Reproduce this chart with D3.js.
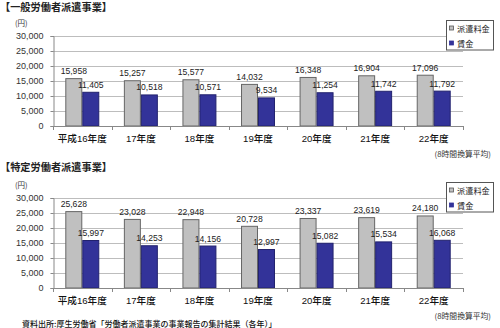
<!DOCTYPE html>
<html><head><meta charset="utf-8">
<script src="https://cdn.jsdelivr.net/npm/d3@7"></script>
<style>
html,body{margin:0;padding:0;background:#fff;}
svg{display:block;font-family:"Liberation Sans","Noto Sans CJK JP",sans-serif;}
</style></head><body>
<script>
const categories = ["平成16年度","17年度","18年度","19年度","20年度","21年度","22年度"];
const seriesNames = ["派遣料金","賃金"];
const generalFee  = [15958,15257,15577,14032,16348,16904,17096];
const generalWage = [11405,10518,10571,9534,11254,11742,11792];
const specificFee  = [25628,23028,22948,20728,23337,23619,24180];
const specificWage = [15997,14253,14156,12997,15082,15534,16068];
const yTicks = [0,5000,10000,15000,20000,25000,30000];
const titles = ["【一般労働者派遣事業】","【特定労働者派遣事業】"];
const unitLabel = "(円)";
const noteLabel = "(8時間換算平均)";
const sourceText = "資料出所:厚生労働省「労働者派遣事業の事業報告の集計結果（各年）」";

const colors = {"派遣料金":"#c0c0c0","賃金":"#333399"};
const strokes = {"派遣料金":"#666666","賃金":"#22226e"};

const svg = d3.select("body").append("svg").attr("width",500).attr("height",328);
const fmt = d3.format(",");

function drawChart(offY, titleY, title, fee, wage){
  const g = svg.append("g").attr("transform",`translate(0,${offY})`);
  const left=53, right=463, top=36, bottom=126;
  const x0 = d3.scaleBand().domain(categories).range([left,right]).paddingInner(0.42).paddingOuter(0.21);
  const x1 = d3.scaleBand().domain(seriesNames).range([0,x0.bandwidth()]);
  const y = d3.scaleLinear().domain([0,30000]).range([bottom,top]);

  g.append("text").attr("x",0).attr("y",titleY).attr("font-size",10.2).attr("font-weight","bold")
    .attr("font-family","Noto Sans CJK JP").attr("fill","#222").text(title);
  g.append("text").attr("x",15).attr("y",25.5).attr("font-size",7.5).attr("fill","#333")
    .attr("font-family","Noto Sans CJK JP").text(unitLabel);

  // gridlines
  g.append("g").selectAll("line").data(yTicks.filter(d=>d>0)).join("line")
    .attr("x1",left).attr("x2",right).attr("y1",d=>y(d)+0.5).attr("y2",d=>y(d)+0.5)
    .attr("stroke","#bdbdbd").attr("stroke-width",1);

  // y axis
  const ya = g.append("g").attr("transform",`translate(${left+0.5},0)`)
    .call(d3.axisLeft(y).tickValues(yTicks).tickSize(3).tickFormat(fmt));
  ya.select(".domain").attr("stroke","#888");
  ya.selectAll(".tick line").attr("stroke","#888");
  ya.selectAll(".tick text").attr("font-size",9).attr("fill","#333")
    .attr("font-family","Liberation Sans").attr("dx",-4);

  // bars
  const data = categories.map((c,i)=>({c, vals:[{s:"派遣料金",v:fee[i]},{s:"賃金",v:wage[i]}]}));
  const grp = g.append("g").selectAll("g").data(data).join("g")
    .attr("transform",d=>`translate(${x0(d.c)},0)`);
  grp.selectAll("rect").data(d=>d.vals).join("rect")
    .attr("x",d=>x1(d.s)+0.5).attr("width",x1.bandwidth()-1)
    .attr("y",d=>y(d.v)+0.5).attr("height",d=>y(0)-y(d.v)-0.5)
    .attr("fill",d=>colors[d.s]).attr("stroke",d=>strokes[d.s]).attr("stroke-width",1);
  grp.selectAll("text").data(d=>d.vals).join("text")
    .attr("x",d=>x1(d.s)+x1.bandwidth()/2).attr("y",d=>y(d.v)-4)
    .attr("text-anchor","middle").attr("font-size",8.6).attr("fill","#222")
    .text(d=>fmt(d.v));

  // x axis
  g.append("line").attr("x1",left).attr("x2",right).attr("y1",bottom+0.5).attr("y2",bottom+0.5)
    .attr("stroke","#888");
  const step = x0.step();
  const bounds = d3.range(categories.length+1).map(i=>left+i*step);
  g.append("g").selectAll("line").data(bounds).join("line")
    .attr("x1",d=>Math.round(d)+0.5).attr("x2",d=>Math.round(d)+0.5)
    .attr("y1",bottom).attr("y2",bottom+4).attr("stroke","#888");
  g.append("g").selectAll("text").data(categories).join("text")
    .attr("x",d=>x0(d)+x0.bandwidth()/2).attr("y",bottom+15.5)
    .attr("text-anchor","middle").attr("font-size",9.6).attr("fill","#111")
    .attr("font-weight",500)
    .text(d=>d);

  g.append("text").attr("x",491).attr("y",bottom+30.5).attr("text-anchor","end")
    .attr("font-size",7.8).attr("fill","#333").attr("font-family","Noto Sans CJK JP").text(noteLabel);

  // legend
  const lg = g.append("g");
  lg.append("rect").attr("x",446.5).attr("y",20.5).attr("width",47).attr("height",29.5)
    .attr("fill","#fff").attr("stroke","#555");
  seriesNames.forEach((s,i)=>{
    const yy = 28.5 + i*15;
    lg.append("rect").attr("x",449.5).attr("y",yy-2.5).attr("width",4).attr("height",4)
      .attr("fill",colors[s]).attr("stroke",i===0?"#555":colors[s]).attr("stroke-width",0.8);
    lg.append("text").attr("x",457).attr("y",yy+3).attr("font-size",8.2).attr("fill","#222")
      .attr("font-family","Noto Sans CJK JP").text(s);
  });
}

drawChart(0, 11, titles[0], generalFee, generalWage);
drawChart(162, 9, titles[1], specificFee, specificWage);

svg.append("text").attr("x",22).attr("y",327).attr("font-size",8).attr("fill","#111")
  .attr("font-weight",500)
  .attr("font-family","Noto Sans CJK JP").text(sourceText);
</script>
</body></html>
